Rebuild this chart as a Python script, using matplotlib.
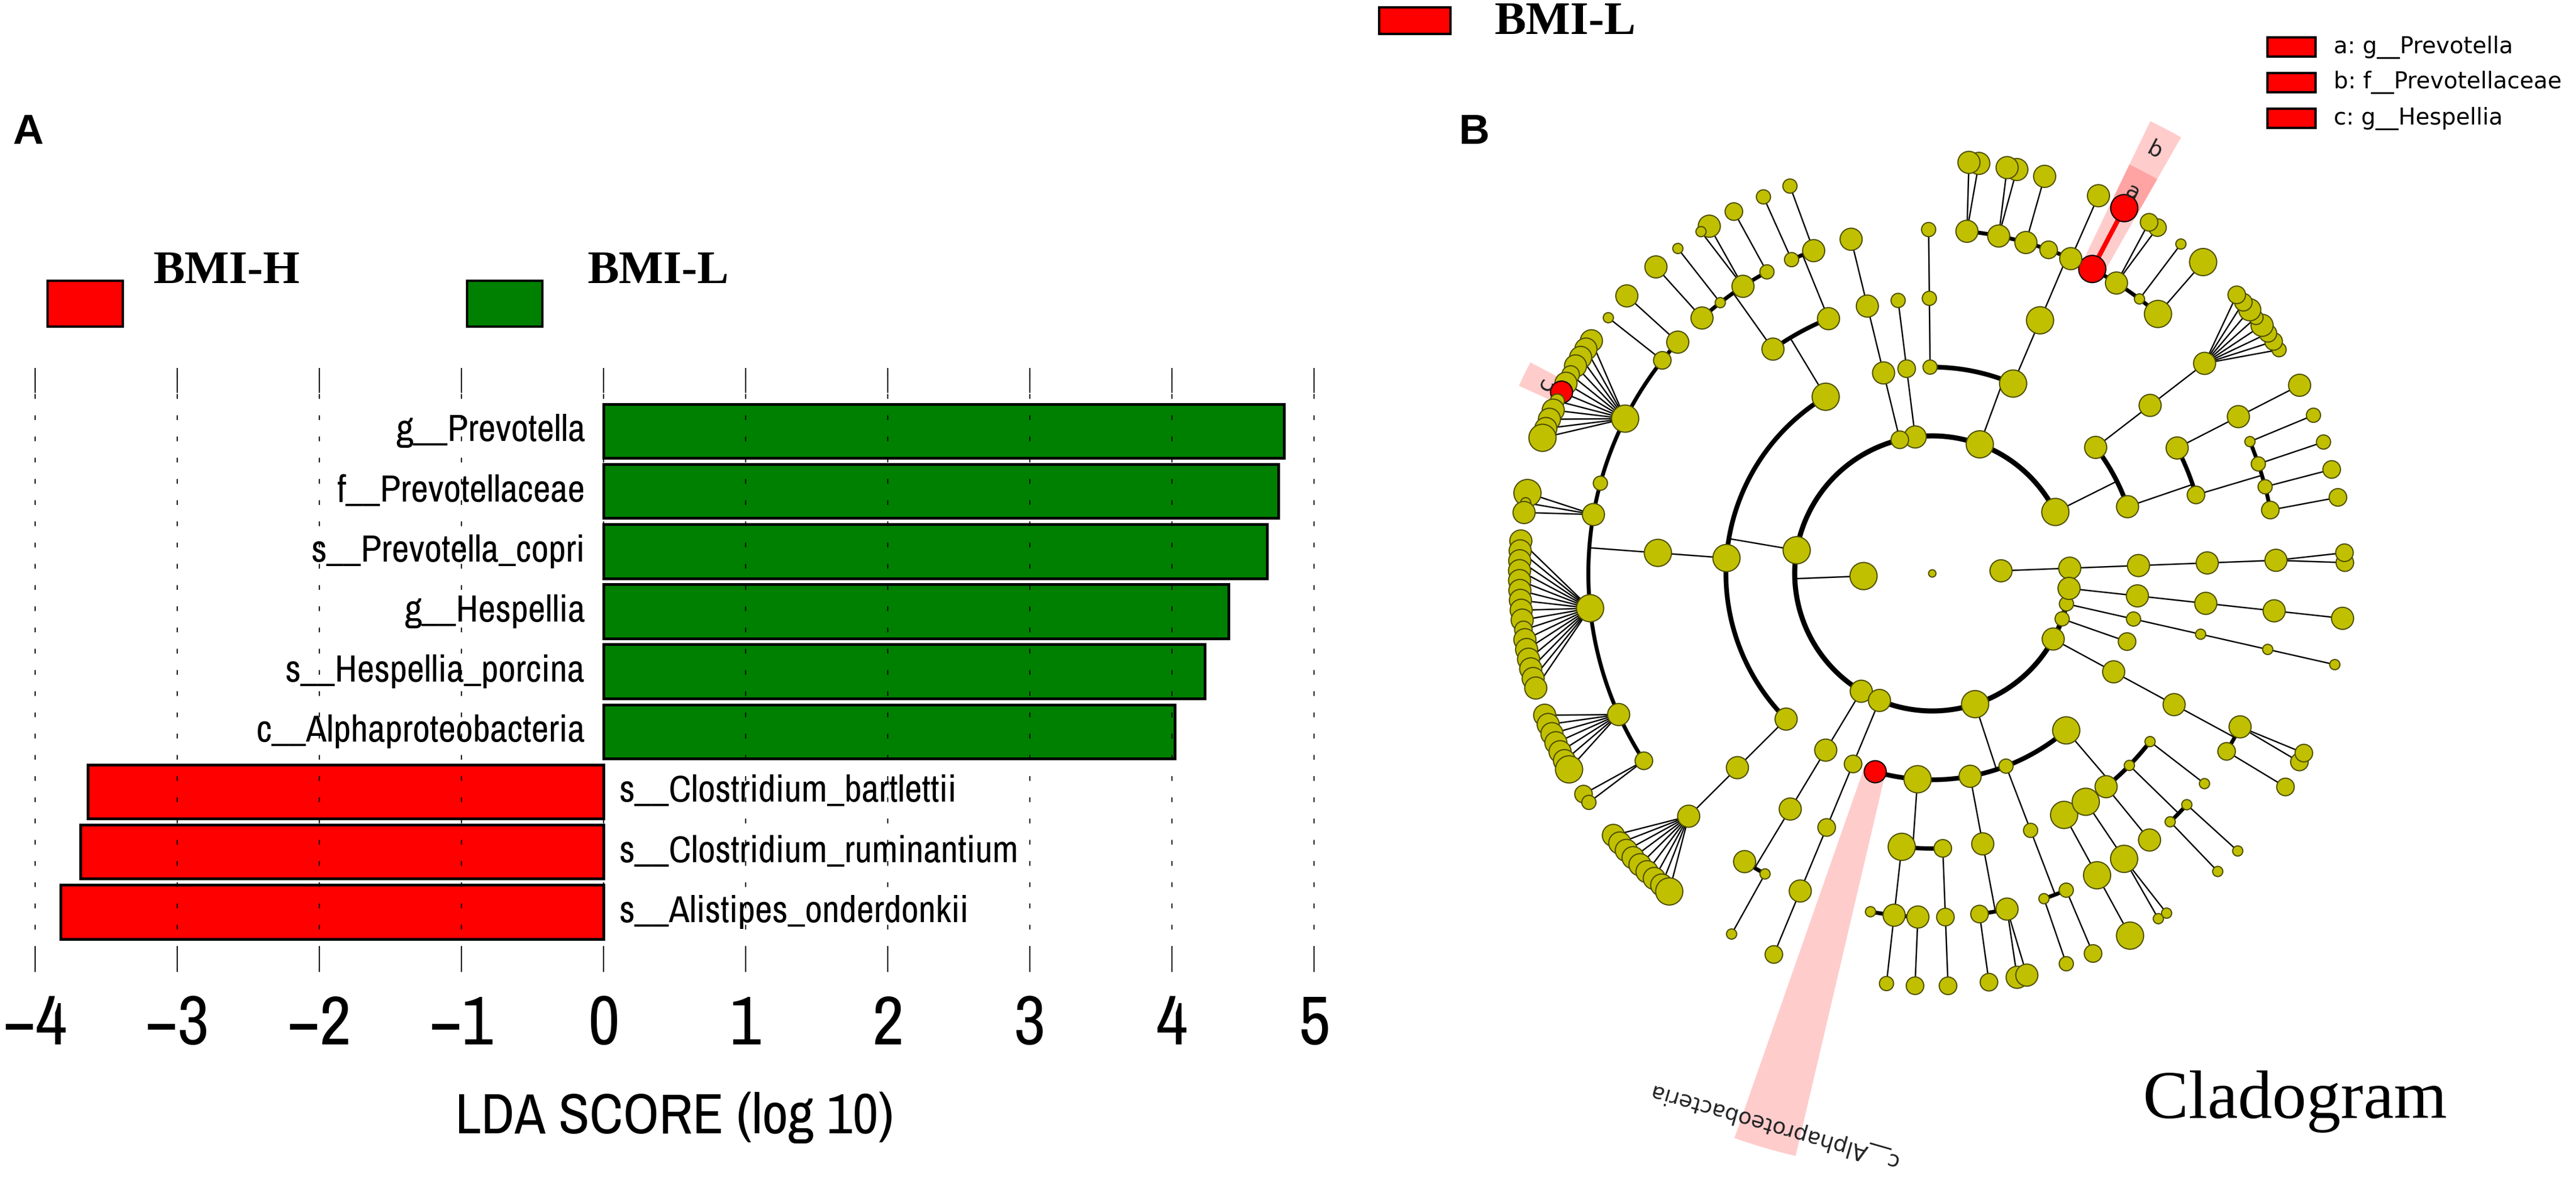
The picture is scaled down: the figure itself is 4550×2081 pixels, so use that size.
import os
import numpy as np
import matplotlib
matplotlib.use('Agg')
from matplotlib import pyplot as plt
from matplotlib import font_manager as fm
from matplotlib.font_manager import FontProperties
from matplotlib.patches import Rectangle, Wedge

# ---------------- panel A data (LDA scores) ----------------
lda_taxa = ['g__Prevotella', 'f__Prevotellaceae', 's__Prevotella_copri', 'g__Hespellia',
            's__Hespellia_porcina', 'c__Alphaproteobacteria', 's__Clostridium_bartlettii',
            's__Clostridium_ruminantium', 's__Alistipes_onderdonkii']
lda_score = [4.79, 4.75, 4.67, 4.40, 4.23, 4.02, -3.63, -3.68, -3.82]
lda_group = ['BMI-L'] * 6 + ['BMI-H'] * 3
group_names = ['BMI-H', 'BMI-L']
group_colors = ['#ff0000', '#008000']
lda_ticks = [-4, -3, -2, -1, 0, 1, 2, 3, 4, 5]

# ---------------- panel B data (cladogram) ----------------
# node = (abundance, [children]) or (abundance, [children], name); a bare number is a leaf.
# children are listed counter-clockwise.
archaea = (4, [(4, [(4, [(4, [(4, [3, 3])])])])])

phylum_a = (5, [
    (4, [(3, [(3, [3]), (2, [3]), (2, [2]), (1, [2])]),
         (4, [(4, [4])])]),
    (4, [(4, [(4, [2, 3, 3, 4, 2, 4, 3, 3])])]),
])
phylum_b = (5, [
    (5, [(5, [(5, [5]), (1, [1]), (4, [3, 3]),
              (5, [(5, [], 'g__Prevotella')], 'f__Prevotellaceae'),
              (4, [4]), 3, (4, [4]), (4, [4, 4]), (4, [4, 4])])]),
    (2, [(2, [2])]),
])
phylum_c = (4, [(3, [2])])
phylum_d = (3, [(4, [(4, [4])])])
phylum_e = (5, [
    (5, [(4, [(4, [2]), (2, [2])]),
         (4, [(2, [3]), (4, [4, 1]), (1, [1]), (4, [4])])]),
    (5, [(5, [(4, [4]), (3, [1]),
              (5, [4, 4, 4, 4, 3, 4, (4, [], 'g__Hespellia'), 2, 4, 4, 4, 5]),
              2,
              (4, [5, 1, 4]),
              (5, [4, 4, 4, 4, 4, 4, 4, 4, 4, 3, 4, 4, 4, 4, 4, 4]),
              (4, [4, 4, 4, 4, 4, 4, 5]),
              (3, [3, 2])])]),
    (4, [(4, [(4, [4, 4, 4, 4, 4, 4, 4, 4, 5])])]),
])
phylum_f = (4, [(4, [(4, [4, (1, [1])])])])
phylum_g = (4, [(3, [(3, [(4, [3])])])])
phylum_h = (5, [
    (4, [], 'c__Alphaproteobacteria'),
    (5, [(5, [1, (4, [2]), (4, [3])]), (3, [(3, [3])])]),
    (4, [(4, [(3, [3]), (4, [4, 4])])]),
    (2, [(2, [(1, [2]), (2, [3])])]),
    (5, [(5, [(5, [5])]), (5, [(5, [1, 1])]), (4, [4]),
         (1, [(1, [1]), (1, [1])]), (1, [1])]),
])
phylum_i = (4, [(4, [(4, [(3, [3]), (4, [3, 3])])])])
phylum_j = (2, [3])
phylum_k = (2, [(2, [(1, [(1, [1])])])])
phylum_l = (4, [(4, [(4, [(4, [4])])])])

bacteria = (5, [phylum_a, phylum_b, phylum_c, phylum_d, phylum_e, phylum_f,
                phylum_g, phylum_h, phylum_i, phylum_j, phylum_k, phylum_l])
tree = (0, [archaea, bacteria])

clade_letters = {'g__Prevotella': 'a', 'f__Prevotellaceae': 'b', 'g__Hespellia': 'c'}
clade_group = 'BMI-L'
clade_color = '#ff0000'

# ---------------- figure ----------------
W, H = 4550, 2081
DPI = 100
fig = plt.figure(figsize=(W / DPI, H / DPI), dpi=DPI)


def find_narrow():
    skip = ('Bold', 'Italic', 'Oblique', 'Mono', 'Light', 'Thin', 'Medium', 'Semi',
            'Black', 'Extra', 'Heavy')
    prefer = ['LiberationSansNarrow', 'ArchivoNarrow', 'DejaVuSansCondensed']
    cands = []
    for f in fm.fontManager.ttflist:
        base = os.path.basename(f.fname)
        if any(s in base for s in skip):
            continue
        if not ('Narrow' in base or 'Condensed' in base or f.stretch == 'condensed'):
            continue
        rank = next((i for i, p in enumerate(prefer) if base.startswith(p)), len(prefer))
        cands.append((rank, base, f.fname))
    cands.sort()
    return cands[0][2] if cands else None


narrow = find_narrow()
if narrow and 'Narrow' in os.path.basename(narrow):
    k = 1.0
elif narrow:
    k = 0.82
else:
    k = 0.74


def nfont(size):
    if narrow:
        return FontProperties(fname=narrow, size=size * k)
    return FontProperties(family='DejaVu Sans', size=size * k)


def fig_box(x0, y0, x1, y1, color):
    fig.add_artist(Rectangle((x0 / W, 1 - y1 / H), (x1 - x0) / W, (y1 - y0) / H,
                             transform=fig.transFigure, facecolor=color,
                             edgecolor='black', linewidth=3))


serif_bold = dict(family='Liberation Serif', weight='bold', size=60)

# ---------------- panel A ----------------
axa = fig.add_axes([37 / W, 1 - 1717 / H, (2346 - 37) / W, (1717 - 650) / H])
ypos = np.arange(len(lda_taxa))[::-1]
colors = [group_colors[group_names.index(g)] for g in lda_group]
axa.barh(ypos, lda_score, height=0.9, color=colors, edgecolor='black', linewidth=3.5, zorder=1)
axa.set_xlim(-4.1, 5.1)
axa.set_ylim(-1.0, 9.05)
axa.set_xticks(lda_ticks, labels=[str(t).replace('-', '\u2212') for t in lda_ticks],
               fontproperties=nfont(88))
axa.set_yticks([])
axa.grid(axis='x', color='black', linestyle=(0, (4, 14)), linewidth=1.5)
axa.set_axisbelow(False)
for s in axa.spines.values():
    s.set_visible(False)
axa.tick_params(axis='x', direction='in', top=True, bottom=True, length=32, width=1.5, pad=28)
axa.set_xlabel('LDA SCORE (log 10)', fontproperties=nfont(72), labelpad=45)

for y, name, v in zip(ypos, lda_taxa, lda_score):
    if v > 0:
        axa.text(-0.13, y, name, ha='right', va='center', fontproperties=nfont(48), zorder=3)
    else:
        axa.text(0.11, y, name, ha='left', va='center', fontproperties=nfont(48), zorder=3)

for i, (g, c) in enumerate(zip(group_names, group_colors)):
    fig_box(84 + i * 741, 496, 217 + i * 741, 577, c)
    fig.text((271 + i * 767) / W, 1 - 480 / H, g, ha='left', va='center', **serif_bold)

fig.text(22 / W, 1 - 200 / H, 'A', ha='left', va='top', family='Liberation Sans',
         weight='bold', size=54)

# ---------------- panel B ----------------
CX, CY, UNIT = 3413, 1013, 121.5
axb = fig.add_axes([2560 / W, 0, 1 - 2560 / W, 1])
axb.set_xlim((2560 - CX) / UNIT, (W - CX) / UNIT)
axb.set_ylim((CY - H) / UNIT, CY / UNIT)
axb.axis('off')


def norm(spec):
    if not isinstance(spec, tuple):
        return spec, [], ''
    if len(spec) == 2:
        return spec[0], spec[1], ''
    return spec


nodes, leaves = [], []


def build(spec, depth, path):
    size, kids, name = norm(spec)
    node = {'size': size, 'name': name, 'depth': depth, 'kids': []}
    nodes.append(node)
    path = path + [len(nodes) - 1]
    if not kids:
        node['first'] = node['last'] = len(leaves)
        leaves.append(path)
    for kid in kids:
        node['kids'].append(build(kid, depth + 1, path))
    if kids:
        node['first'] = node['kids'][0]['first']
        node['last'] = node['kids'][-1]['last']
    return node


build(tree, 0, [])

# angular gap between consecutive leaves, by depth of their common ancestor
gap_by_lca = {5: 1.35, 4: 3.9, 3: 4.5, 2: 5.6, 1: 6.4, 0: 7.6}
gaps = []
n = len(leaves)
for i in range(n):
    a, b = leaves[i], leaves[(i + 1) % n]
    c = 0
    while c < min(len(a), len(b)) and a[c] == b[c]:
        c += 1
    gaps.append(gap_by_lca[c - 1])
gaps = np.array(gaps) * 360.0 / sum(gaps)
leaf_theta = 1.5 + np.concatenate([[0], np.cumsum(gaps[:-1])])
for node in nodes:
    node['theta'] = (leaf_theta[node['first']] + leaf_theta[node['last']]) / 2


def xy(theta, r):
    t = np.radians(theta)
    return r * np.cos(t), r * np.sin(t)


arc_lw = {2: 6.5, 3: 6.0, 4: 5.5, 5: 5.0}
for node in nodes:
    d = node['depth']
    kids = node['kids']
    if d == 0 or not kids:
        continue
    th = node['theta']
    x0, y0 = xy(th, d)
    if d + 1 == 6:
        for kid in kids:
            x1, y1 = xy(kid['theta'], d + 1)
            if node['name'] and kid['name']:
                axb.plot([x0, x1], [y0, y1], color=clade_color, lw=6, zorder=1.5)
            else:
                axb.plot([x0, x1], [y0, y1], color='black', lw=1.8, zorder=1)
    else:
        x1, y1 = xy(th, d + 1)
        axb.plot([x0, x1], [y0, y1], color='black', lw=1.8, zorder=1)
        if len(kids) > 1:
            ts = np.linspace(kids[0]['theta'], kids[-1]['theta'], 300)
            ax_, ay_ = xy(ts, d + 1)
            axb.plot(ax_, ay_, color='black', lw=arc_lw[d + 1], zorder=1,
                     solid_capstyle='round')

# highlighted clades: shaded wedge and label
for node in nodes:
    if not node['name']:
        continue
    d, th = node['depth'], node['theta']
    i0, i1 = node['first'], node['last']
    t0 = leaf_theta[i0] - gaps[i0 - 1] / 2
    t1 = leaf_theta[i1] + gaps[i1] / 2
    if t1 - t0 < 3.3:
        mid = (t0 + t1) / 2
        t0, t1 = mid - 1.65, mid + 1.65
    outer = 6.6 + 0.7 * (6 - d)
    axb.add_patch(Wedge((0, 0), outer, t0, t1, width=outer - d, facecolor=clade_color,
                        alpha=0.2, linewidth=0, zorder=0.5))
    label = clade_letters.get(node['name'], node['name'])
    lx, ly = xy(th, outer - 0.35)
    axb.text(lx, ly, label, rotation=th - 90, rotation_mode='anchor', ha='center',
             va='center', family='DejaVu Sans', size=28, color='#222222', zorder=4)

radius_px = {0: 6.5, 1: 9, 2: 12.5, 3: 15.5, 4: 19.5, 5: 24}
px, py, ps, pc, pe = [], [], [], [], []
for node in nodes:
    x, y = xy(node['theta'], node['depth'])
    px.append(x)
    py.append(y)
    ps.append((2 * radius_px[node['size']] * 72 / DPI) ** 2)
    pc.append(clade_color if node['name'] else '#c0c000')
    pe.append('black' if node['name'] else '#4d4d00')
axb.scatter(px, py, s=ps, c=pc, edgecolors=pe, linewidths=1.5, zorder=3)

fig_box(2436, 13, 2562, 60, clade_color)
fig.text(2640 / W, 1 - 40 / H, clade_group, ha='left', va='center', **serif_bold)

for i, (name, letter) in enumerate(clade_letters.items()):
    fig_box(4005, 66 + i * 63, 4090, 100 + i * 63, clade_color)
    fig.text(4122 / W, 1 - (83 + i * 63) / H, f'{letter}: {name}', ha='left', va='center',
             family='DejaVu Sans', size=29)

fig.text(2577 / W, 1 - 200 / H, 'B', ha='left', va='top', family='Liberation Sans',
         weight='bold', size=54)
fig.text(3785 / W, 1 - 1975 / H, 'Cladogram', ha='left', va='baseline',
         family='Liberation Serif', size=87)

fig.savefig('out.png', dpi=DPI)
